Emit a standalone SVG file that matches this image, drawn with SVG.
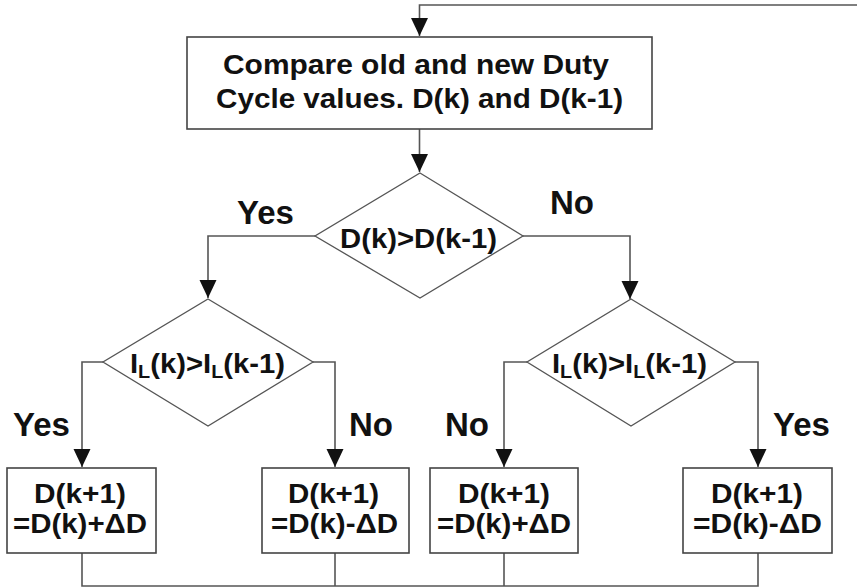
<svg xmlns="http://www.w3.org/2000/svg" width="857" height="587" viewBox="0 0 857 587">
<style>
.t{font-family:"Liberation Sans",Arial,Helvetica,sans-serif;font-weight:bold;fill:#111;}
.bt{font-size:28px;}
.lb{font-size:33px;}
.box{fill:#fff;stroke:#444;stroke-width:1.6;}
.dia{fill:#fff;stroke:#555;stroke-width:1.3;}
.ln{fill:none;stroke:#555;stroke-width:1.6;}
</style>
<defs>
<marker id="ah" markerUnits="userSpaceOnUse" markerWidth="18" markerHeight="18" refX="18" refY="8.5" orient="auto" viewBox="0 0 18 17">
<path d="M0,0 L18,8.5 L0,17 Z" fill="#111"/>
</marker>
</defs>
<rect width="857" height="587" fill="#fff"/>
<g id="connectors">
<path class="ln" d="M857,5 H419.5 V36" marker-end="url(#ah)"/>
<path class="ln" d="M419.5,129 V172" marker-end="url(#ah)"/>
<path class="ln" d="M315,236 H208 V298" marker-end="url(#ah)"/>
<path class="ln" d="M523,236 H630 V299" marker-end="url(#ah)"/>
<path class="ln" d="M103,362 H82 V467" marker-end="url(#ah)"/>
<path class="ln" d="M313,362 H335 V467" marker-end="url(#ah)"/>
<path class="ln" d="M527,362 H504 V467" marker-end="url(#ah)"/>
<path class="ln" d="M735,362 H758 V467" marker-end="url(#ah)"/>
<path class="ln" d="M82,553 V586 H758 V553"/>
<path class="ln" d="M335,553 V586"/>
<path class="ln" d="M504,553 V586"/>
<text class="t lb" x="237" y="224">Yes</text>
<text class="t lb" x="550" y="214">No</text>
<text class="t lb" x="13" y="436">Yes</text>
<text class="t lb" x="349" y="436">No</text>
<text class="t lb" x="445" y="436">No</text>
<text class="t lb" x="773" y="436">Yes</text>
</g>
<g id="compare">
<rect class="box" x="187" y="37" width="465" height="92"/>
<text class="t bt" x="223" y="74" textLength="386" lengthAdjust="spacingAndGlyphs">Compare old and new Duty</text>
<text class="t bt" x="216" y="108" textLength="407" lengthAdjust="spacingAndGlyphs">Cycle values. D(k) and D(k-1)</text>
</g>
<g id="dec1">
<polygon class="dia" points="420,173 523,236 420,298 315,236"/>
<text class="t bt" x="340" y="248" textLength="157" lengthAdjust="spacingAndGlyphs">D(k)&gt;D(k-1)</text>
</g>
<g id="dec2">
<polygon class="dia" points="208,299 313,362 208,426 103,362"/>
<text class="t bt" x="130" y="373" textLength="155" lengthAdjust="spacingAndGlyphs">I<tspan font-size="19" dy="5">L</tspan><tspan dy="-5">(k)&gt;I</tspan><tspan font-size="19" dy="5">L</tspan><tspan dy="-5">(k-1)</tspan></text>
</g>
<g id="dec3">
<polygon class="dia" points="631,299 735,362 631,426 527,362"/>
<text class="t bt" x="552" y="373" textLength="155" lengthAdjust="spacingAndGlyphs">I<tspan font-size="19" dy="5">L</tspan><tspan dy="-5">(k)&gt;I</tspan><tspan font-size="19" dy="5">L</tspan><tspan dy="-5">(k-1)</tspan></text>
</g>
<g id="out1">
<rect class="box" x="7" y="468" width="149" height="85"/>
<text class="t bt" x="34" y="503" textLength="92" lengthAdjust="spacingAndGlyphs">D(k+1)</text>
<text class="t bt" x="13" y="533" textLength="134" lengthAdjust="spacingAndGlyphs">=D(k)+ΔD</text>
</g>
<g id="out2">
<rect class="box" x="262" y="468" width="147" height="85"/>
<text class="t bt" x="288" y="503" textLength="91" lengthAdjust="spacingAndGlyphs">D(k+1)</text>
<text class="t bt" x="271" y="533" textLength="127" lengthAdjust="spacingAndGlyphs">=D(k)-ΔD</text>
</g>
<g id="out3">
<rect class="box" x="430" y="468" width="148" height="85"/>
<text class="t bt" x="458" y="503" textLength="92" lengthAdjust="spacingAndGlyphs">D(k+1)</text>
<text class="t bt" x="437" y="533" textLength="134" lengthAdjust="spacingAndGlyphs">=D(k)+ΔD</text>
</g>
<g id="out4">
<rect class="box" x="683" y="468" width="149" height="85"/>
<text class="t bt" x="711" y="503" textLength="92" lengthAdjust="spacingAndGlyphs">D(k+1)</text>
<text class="t bt" x="693" y="533" textLength="129" lengthAdjust="spacingAndGlyphs">=D(k)-ΔD</text>
</g>
</svg>
